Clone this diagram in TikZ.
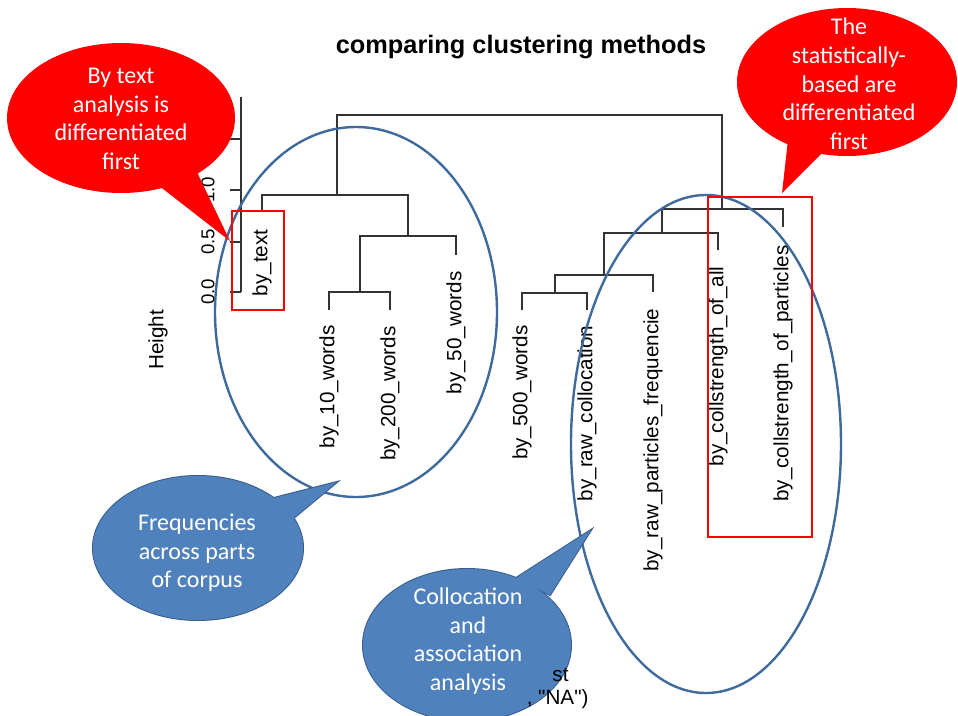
\documentclass[tikz,border=0pt]{standalone}
\usepackage{fontspec}
\setmainfont{Liberation Sans}
\newfontfamily\calloutfont{Carlito}
\newfontfamily\plainsans{Liberation Sans}[Ligatures=TeXOff]
\usetikzlibrary{calc}

\definecolor{calloutblue}{HTML}{4F81BD}
\definecolor{calloutedge}{HTML}{385D8A}
\definecolor{ringblue}{HTML}{3F6A9C}
\definecolor{treegray}{HTML}{333333}

\tikzset{every picture/.style={line width=0.75pt}}
\tikzset{
  tree/.style={draw=treegray, line width=1.1pt},
  leaf/.style={rotate=90, anchor=east, inner sep=0pt, font=\fontsize{15.5}{18}\selectfont},
  ticklab/.style={rotate=90, inner sep=0pt, font=\fontsize{14}{16}\selectfont},
  ring/.style={draw=ringblue, line width=1.8pt},
  pick/.style={draw=red, line width=2pt},
  redtalk/.style={fill=red},
  bluetalk/.style={draw=calloutedge, line width=1.5pt, fill=calloutblue},
  bluefill/.style={fill=calloutblue},
  talktext/.style={align=center, text=white, inner sep=0pt, font=\calloutfont\fontsize{18}{21.5}\selectfont},
}

\begin{document}
\begin{tikzpicture}[x=0.75pt,y=0.75pt,yscale=-1,xscale=1]
\useasboundingbox (0,0) rectangle (958,715);
\fill[white] (0,0) rectangle (958,715);

% title
\node (title) at (521,47) {\fontsize{19}{22}\selectfont\bfseries comparing clustering methods};

% height axis
\draw[tree] (241,97) -- (241,292);
\draw[tree] (241,139) -- (230,139);
\foreach \y/\lab [count=\i] in {292/0.0,242/0.5,190/1.0}{
  \draw[tree] (241,\y) -- (230,\y);
  \node (tick\i) [ticklab] at (208,\y) {\lab};
}
\node (height) [rotate=90, font=\fontsize{15.5}{18}\selectfont] at (158,340) {Height};

% leaf tips
\coordinate (ttext) at (262,212);
\coordinate (t10) at (329,310);
\coordinate (t200) at (390,310);
\coordinate (t50) at (456,255);
\coordinate (t500) at (522,310);
\coordinate (tcoll) at (587,310);
\coordinate (tfreq) at (653,292);
\coordinate (tall) at (718,250);
\coordinate (tpart) at (783,227);

% merges
\coordinate (m1) at (360,292);
\coordinate (m2) at (408,236);
\coordinate (m3) at (337,195);
\coordinate (r1) at (555,293);
\coordinate (r2) at (604,275);
\coordinate (r3) at (662,233);
\coordinate (r4) at (722,209);
\coordinate (root) at (530,115);

\draw[tree] (t10) |- (m1) -| (t200);
\draw[tree] (m1) |- (m2) -| (t50);
\draw[tree] (ttext) |- (m3) -| (m2);
\draw[tree] (t500) |- (r1) -| (tcoll);
\draw[tree] (r1) |- (r2) -| (tfreq);
\draw[tree] (r2) |- (r3) -| (tall);
\draw[tree] (r3) |- (r4) -| (tpart);
\draw[tree] (m3) |- (root) -| (r4);

% leaf labels
\node (ltext) [leaf] at ($(ttext)+(0,17)$) {by\_text};
\node (l10) [leaf] at ($(t10)+(0,15)$) {by\_10\_words};
\node (l200) [leaf] at ($(t200)+(0,16)$) {by\_200\_words};
\node (l50) [leaf] at ($(t50)+(0,16)$) {by\_50\_words};
\node (l500) [leaf] at ($(t500)+(0,15)$) {by\_500\_words};
\node (lcoll) [leaf] at ($(tcoll)+(0,15)$) {by\_raw\_collocation};
\node (lfreq) [leaf] at ($(tfreq)+(0,16)$) {by\_raw\_particles\_frequencie};
\node (lall) [leaf] at ($(tall)+(0,16)$) {by\_collstrength\_of\_all};
\node (lpart) [leaf] at ($(tpart)+(0,18)$) {by\_collstrength\_of\_particles};

% groups
\draw[ring] (356,312) ellipse (141 and 185);
\draw[ring] (706,444) ellipse (135 and 249);
\draw[pick] (232,211) rectangle (284,310);
\draw[pick] (708,197) rectangle (812,537);

% red callouts
\coordinate (texttip) at (230,241);
\fill[redtalk] (121,118) ellipse (114 and 75);
\fill[redtalk] (158,185) -- (texttip) -- (196,170) -- cycle;
\node (textnote) [talktext] at (121,119) {By text\\analysis is\\differentiated\\first};

\coordinate (stattip) at (782,193);
\fill[redtalk] (847,82) ellipse (110 and 74);
\fill[redtalk] (788,140) -- (stattip) -- (825,150) -- cycle;
\node (statnote) [talktext] at (849,84) {The\\statistically-\\based are\\differentiated\\first};

% blue callouts
\coordinate (freqtip) at (337,482);
\draw[bluetalk] (198,548) ellipse (105 and 72);
\draw[bluetalk] (266,500) -- (freqtip) -- (290,521) -- cycle;
\fill[bluefill] (198,548) ellipse (105 and 72);
\fill[bluefill] (266,500) -- (freqtip) -- (290,521) -- cycle;
\node (freqnote) [talktext] at (197,553) {Frequencies\\across parts\\of corpus};

\coordinate (colltip) at (591,530);
\draw[bluetalk] (467,645) ellipse (104 and 76);
\draw[bluetalk] (516,578) -- (colltip) -- (550,595) -- cycle;
\fill[bluefill] (467,645) ellipse (104 and 76);
\fill[bluefill] (516,578) -- (colltip) -- (550,595) -- cycle;
\node (collnote) [talktext] at (468,641) {Collocation\\and\\association\\analysis};

% what shows of the sub title beside the callout
\node (xlab) [anchor=east, inner sep=0pt, font=\plainsans\fontsize{15.5}{18}\selectfont] at (569,675) {st};
\node (sublab) [anchor=east, inner sep=0pt, font=\plainsans\fontsize{15.5}{18}\selectfont] at (589,699) {, "NA")};

\end{tikzpicture}
\end{document}
